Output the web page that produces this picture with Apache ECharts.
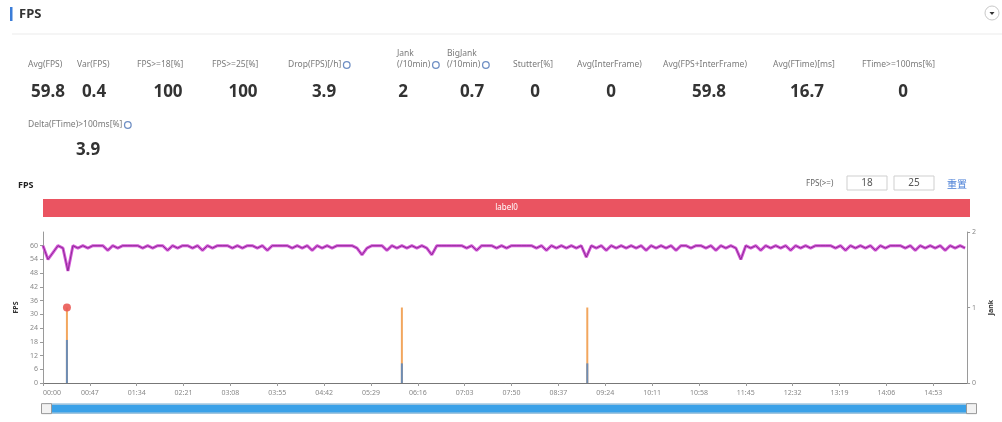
<!DOCTYPE html>
<html>
<head>
<meta charset="utf-8">
<script src="https://cdn.jsdelivr.net/npm/echarts@6/dist/echarts.min.js"></script>
<style>
html,body{margin:0;padding:0;background:#fff;}
#c{width:1002px;height:422px;}
</style>
</head>
<body>
<div id="c"></div>
<script>
// ---------- data ----------
const statLabels = [['Avg(FPS)'],['Var(FPS)'],['FPS>=18[%]'],['FPS>=25[%]'],['Drop(FPS)[/h]'],['Jank','(/10min)'],['BigJank','(/10min)'],['Stutter[%]'],['Avg(InterFrame)'],['Avg(FPS+InterFrame)'],['Avg(FTime)[ms]'],['FTime>=100ms[%]'],['Delta(FTime)>100ms[%]']];
const statValues = ['59.8','0.4','100','100','3.9','2','0.7','0','0','59.8','16.7','0','3.9'];
const statInfo = [false,false,false,false,true,true,true,false,false,false,false,false,true];

const fpsStep = 5; // seconds per sample
const fpsValues = [
60,54,57,60,59,49,60,59,60,59,60,60,60,58,60,59,60,60,60,60,
59,60,59,60,60,58,60,59,60,60,59,60,58,60,59,60,60,60,59,60,
59,60,60,59,60,58,60,60,60,60,59,60,59,60,58,60,59,60,59,60,
60,60,60,59,56,59,60,60,60,58,60,59,60,59,60,59,60,59,56,60,
60,60,60,60,60,59,60,58,60,60,60,59,60,59,60,60,60,60,60,59,
60,58,60,59,60,59,60,59,60,55,60,59,60,58,60,59,60,59,60,59,
60,58,60,59,60,59,60,58,60,60,59,60,60,59,60,58,60,59,60,59,
54,60,59,60,58,60,59,60,59,60,58,60,59,60,59,60,60,60,60,59,
60,58,60,59,60,59,60,58,60,59,60,60,60,59,60,58,60,59,60,59,
60,58,60,59,60,59
];
const durationSec = 927;
const jankTimes = [24, 360, 546];
const jankValues = [1, 1, 1];
const bigJankTimes = [24];
const bigJankValues = [1];
const lowMarkValues = [0.57, 0.26, 0.26];
const labelNames = ['label0'];
const labelEnd = [927];
const xTickStep = 47;
const fpsTicks = 6;
const thresholdValues = ['18', '25'];

// ---------- build ----------
const fpsData = fpsValues.map((v, i) => [i * fpsStep, v]);
const jankData = jankTimes.map((t, i) => [t, jankValues[i]]);
const lowData = jankTimes.map((t, i) => [t, lowMarkValues[i]]);
const bigData = bigJankTimes.map((t, i) => [t, bigJankValues[i]]);

function mmss(v) {
  const m = Math.floor(v / 60), s = Math.round(v % 60);
  return String(m).padStart(2, '0') + ':' + String(s).padStart(2, '0');
}

const FONT = '"Noto Sans", "Noto Sans CJK SC", sans-serif';
const mctx = document.createElement('canvas').getContext('2d');
function tw(t, f) { mctx.font = f; return mctx.measureText(t).width; }

const graphics = [];
// header
graphics.push({type:'rect', shape:{x:10,y:7,width:2.5,height:14}, style:{fill:'#3b7dd8'}});
graphics.push({type:'text', x:19, y:14, style:{text:'FPS', font:'bold 13px ' + FONT, fill:'#333', verticalAlign:'middle'}});
graphics.push({type:'line', shape:{x1:12,y1:34,x2:1002,y2:34}, style:{stroke:'#ebebeb', lineWidth:1}});
graphics.push({type:'circle', shape:{cx:992,cy:13,r:7}, style:{fill:'#fff', stroke:'#c8c8c8', lineWidth:1}});
graphics.push({type:'polygon', shape:{points:[[989.5,12],[994.5,12],[992,15]]}, style:{fill:'#333'}});

// stats
const labelX = [28,77,137,212,288,397,447,513,577,663,773,862,28];
const valueX = [48,94,168,243,324,403,472,535,611,709,807,903,88];
const rowOf  = [0,0,0,0,0,0,0,0,0,0,0,0,1];
const labelY = [65,125], valueY = [92,150];
const LF = '8.5px ' + FONT, VF = 'bold 17px ' + FONT;
statLabels.forEach((lines, i) => {
  const r = rowOf[i];
  lines.forEach((ln, k) => {
    const y = labelY[r] - (lines.length - 1 - k) * 11;
    graphics.push({type:'text', x:labelX[i], y:y, style:{text:ln, font:LF, fill:'#7a7a7a', verticalAlign:'middle'}});
    if (statInfo[i] && k === lines.length - 1) {
      const w = tw(ln, LF);
      graphics.push({type:'circle', shape:{cx:labelX[i] + w + 5.5, cy:y, r:3.3}, style:{fill:'none', stroke:'#6f8fc4', lineWidth:1.3}});
    }
  });
  graphics.push({type:'text', x:valueX[i], y:valueY[r], style:{text:statValues[i], font:VF, fill:'#333', align:'center', verticalAlign:'middle'}});
});

// chart header
graphics.push({type:'text', x:18, y:185, style:{text:'FPS', font:'bold 9px ' + FONT, fill:'#222', verticalAlign:'middle'}});
graphics.push({type:'text', x:806, y:184, style:{text:'FPS(>=)', font:'8px ' + FONT, fill:'#666', verticalAlign:'middle'}});
[[847,thresholdValues[0]],[894,thresholdValues[1]]].forEach(([bx, t]) => {
  graphics.push({type:'rect', shape:{x:bx, y:176, width:40, height:14}, style:{fill:'#fff', stroke:'#cfcfcf', lineWidth:1}});
  graphics.push({type:'text', x:bx + 20, y:183.5, style:{text:t, font:'10px ' + FONT, fill:'#555', align:'center', verticalAlign:'middle'}});
});
graphics.push({type:'text', x:947, y:184, style:{text:'重置', font:'10px "Noto Sans CJK SC", sans-serif', fill:'#4a7fd6', verticalAlign:'middle'}});

const axisGrey = '#9a9a9a';
const option = {
  animation: false,
  backgroundColor: '#fff',
  textStyle: {fontFamily: FONT},
  graphic: graphics,
  grid: [
    {left:43, right:32, top:232, height:151},
    {left:43, right:32, top:199, height:18}
  ],
  xAxis: [
    {
      type:'value', gridIndex:0, min:0, max:durationSec, interval:xTickStep,
      axisLine:{lineStyle:{color:'#777'}},
      axisTick:{length:3, lineStyle:{color:axisGrey}},
      splitLine:{show:false},
      axisLabel:{fontSize:7, color:'#888', formatter:mmss, showMaxLabel:false, alignMinLabel:'left', margin:6}
    },
    {type:'value', gridIndex:1, min:0, max:durationSec, show:false}
  ],
  yAxis: [
    {
      type:'value', gridIndex:0, min:0, max:66, interval:fpsTicks,
      name:'FPS', nameLocation:'middle', nameGap:22, nameTextStyle:{fontSize:7, fontWeight:'bold', color:'#333'},
      axisLine:{show:true, lineStyle:{color:axisGrey}},
      axisTick:{show:true, length:3, lineStyle:{color:axisGrey}},
      splitLine:{show:false},
      axisLabel:{fontSize:7, color:'#888', showMaxLabel:false, margin:5}
    },
    {
      type:'value', gridIndex:0, min:0, max:2, interval:1, position:'right',
      name:'Jank', nameLocation:'middle', nameGap:14, nameTextStyle:{fontSize:7, fontWeight:'bold', color:'#333'},
      axisLine:{show:true, lineStyle:{color:axisGrey}},
      axisTick:{show:true, length:3, lineStyle:{color:axisGrey}},
      splitLine:{show:false},
      axisLabel:{fontSize:7, color:'#888', margin:5}
    },
    {type:'category', gridIndex:1, data:labelNames, show:false}
  ],
  dataZoom: [{
    type:'slider', xAxisIndex:[0,1], left:43, right:32, top:403, height:10,
    fillerColor:'#3aa1e8', backgroundColor:'#3aa1e8', borderColor:'#d8d8d8',
    dataBackground:{lineStyle:{opacity:0}, areaStyle:{opacity:0}},
    selectedDataBackground:{lineStyle:{opacity:0}, areaStyle:{opacity:0}},
    handleIcon:'path://M0,0 L10,0 L10,10 L0,10 Z',
    handleSize:'100%', handleStyle:{color:'#f2f2f2', borderColor:'#999', borderWidth:1},
    moveHandleSize:0, showDetail:false, brushSelect:false
  }],
  series: [
    {
      name:'labels', type:'bar', xAxisIndex:1, yAxisIndex:2, data:labelEnd, barWidth:'100%',
      itemStyle:{color:'#ea5461'}, silent:true,
      label:{show:true, position:'inside', formatter:(p) => labelNames[p.dataIndex], color:'#fff', fontSize:8}
    },
    {
      name:'FPS', type:'line', xAxisIndex:0, yAxisIndex:0, data:fpsData, showSymbol:false,
      lineStyle:{color:'#d45ad8', width:3}, z:3
    },
    {
      name:'FPS core', type:'line', xAxisIndex:0, yAxisIndex:0, data:fpsData, showSymbol:false,
      lineStyle:{color:'#7c1f86', width:0.8}, z:4
    },
    {
      name:'Jank', type:'bar', xAxisIndex:0, yAxisIndex:1, data:jankData, barWidth:2,
      itemStyle:{color:'#f2a65e'}, barGap:'-100%', z:2
    },
    {
      name:'Low', type:'bar', xAxisIndex:0, yAxisIndex:1, data:lowData, barWidth:2,
      itemStyle:{color:'#6d8db5'}, barGap:'-100%', z:2
    },
    {
      name:'BigJank', type:'scatter', xAxisIndex:0, yAxisIndex:1, data:bigData, symbolSize:8,
      itemStyle:{color:'#ea5a55', opacity:0.9}, z:5
    }
  ]
};
echarts.init(document.getElementById('c')).setOption(option);
</script>
</body>
</html>
